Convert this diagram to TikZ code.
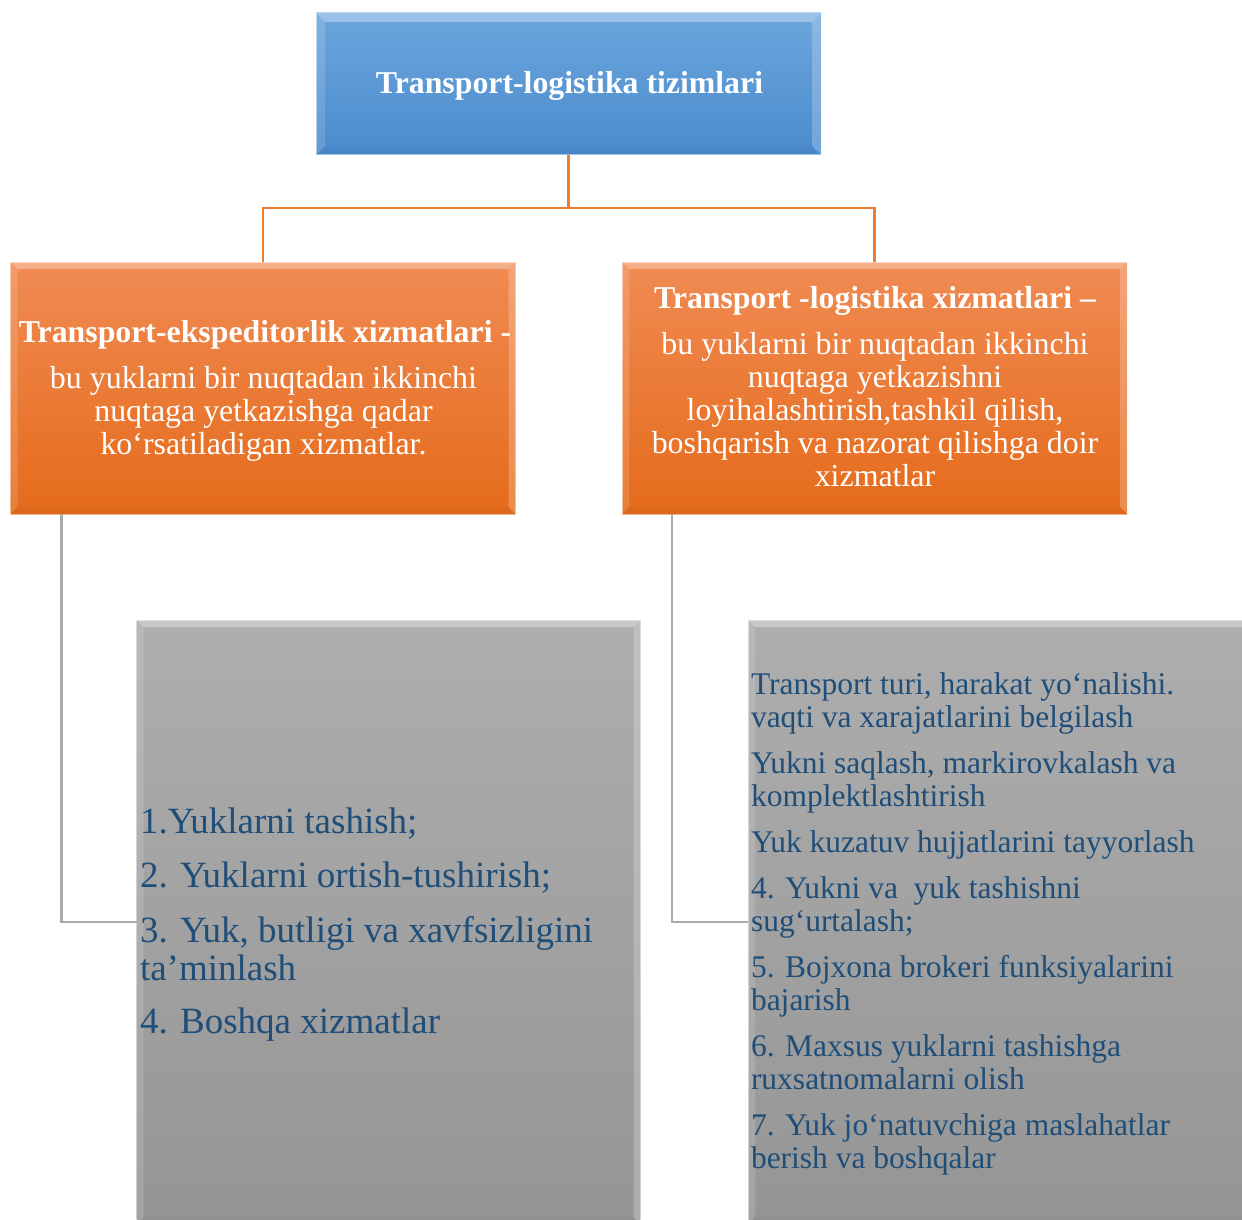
\documentclass[tikz,border=0pt]{standalone}
\usepackage{fontspec}
\setmainfont{Liberation Serif}
\usetikzlibrary{calc}
\definecolor{blueT}{HTML}{6CA6DD}
\definecolor{blueB}{HTML}{4A8BCD}
\definecolor{orT}{HTML}{F08B53}
\definecolor{orB}{HTML}{E56B1B}
\definecolor{grT}{HTML}{AEAEAE}
\definecolor{grB}{HTML}{959595}
\definecolor{txtblue}{HTML}{1F4E79}
\definecolor{orline}{HTML}{ED7D31}
\definecolor{grline}{HTML}{ABABAB}
\newcommand\bevelbox[2]{%
  \fill[white,opacity=0.32] (#1.north west) -- (#1.north east) -- ($(#1.north east)+(-#2,#2)$) -- ($(#1.north west)+(#2,#2)$) -- cycle;
  \fill[white,opacity=0.14] (#1.north west) -- ($(#1.north west)+(#2,#2)$) -- ($(#1.south west)+(#2,-#2)$) -- (#1.south west) -- cycle;
  \fill[white,opacity=0.22] (#1.north east) -- (#1.south east) -- ($(#1.south east)+(-#2,-#2)$) -- ($(#1.north east)+(-#2,#2)$) -- cycle;
  \fill[black,opacity=0.03] (#1.south west) -- (#1.south east) -- ($(#1.south east)+(-#2,-#2)$) -- ($(#1.south west)+(#2,-#2)$) -- cycle;
  \draw[white,opacity=0.5,line width=1pt] (#1.north west) rectangle (#1.south east);
}
\begin{document}
\begin{tikzpicture}[x=1pt,y=-1pt,
  box/.style={rectangle, inner sep=0pt, outer sep=0pt, draw=none},
  bluebox/.style={box, top color=blueT, bottom color=blueB, minimum width=505pt, minimum height=142pt},
  orbox/.style={box, top color=orT, bottom color=orB, minimum width=505pt, minimum height=252pt},
  grbox/.style={box, top color=grT, bottom color=grB, minimum width=504pt, minimum height=604pt},
  txt/.style={inner sep=0pt, outer sep=0pt},
  ttl/.style={txt, anchor=base, text=white, font=\fontsize{31.8pt}{33pt}\selectfont\bfseries},
  wbody/.style={txt, anchor=base, text=white, font=\fontsize{31.9pt}{33pt}\selectfont},
  llist/.style={txt, anchor=base west, text=txtblue, font=\fontsize{37pt}{39pt}\selectfont},
  rlist/.style={txt, anchor=base west, text=txtblue, font=\fontsize{31.5pt}{33pt}\selectfont},
  oline/.style={draw=orline, line width=2.2pt},
  gline/.style={draw=grline, line width=2.2pt},
]
\useasboundingbox (0,0) rectangle (1242,1220);
\clip (0,0) rectangle (1242,1220);
\fill[white] (0,0) rectangle (1242,1220);

% boxes
\node[bluebox] (top) at (568.5,84) {};
\node[orbox] (lbox) at (263,388) {};
\node[orbox] (rbox) at (874.5,388) {};
\node[grbox] (glbox) at (388.5,922) {};
\node[grbox] (grbox) at (1000,922) {};
\bevelbox{top}{9}
\bevelbox{lbox}{7}
\bevelbox{rbox}{7}
\bevelbox{glbox}{7}
\bevelbox{grbox}{7}

% connectors
\coordinate (bus) at (568.5,208);
\draw[oline] (top.south) -- (bus);
\draw[oline] (lbox.north) |- (bus) -| (rbox.north);
\draw[gline] ([xshift=51pt]lbox.south west) |- (glbox.west);
\draw[gline] ([xshift=50pt]rbox.south west) |- (grbox.west);

% texts
\node[ttl] (t0) at (569.5,94) {Transport-logistika tizimlari};

\node[ttl] (lt) at (265,342) {Transport-ekspeditorlik xizmatlari -};
\node[wbody] (lb1) at (263.5,388) {bu yuklarni bir nuqtadan ikkinchi};
\node[wbody] (lb2) at (263.5,421) {nuqtaga yetkazishga qadar};
\node[wbody] (lb3) at (263.5,454) {ko‘rsatiladigan xizmatlar.};

\node[ttl] (rt) at (875,308) {Transport -logistika xizmatlari –};
\node[wbody] (rb1) at (875,354) {bu yuklarni bir nuqtadan ikkinchi};
\node[wbody] (rb2) at (875,387) {nuqtaga yetkazishni};
\node[wbody] (rb3) at (875,420) {loyihalashtirish,tashkil qilish,};
\node[wbody] (rb4) at (875,453) {boshqarish va nazorat qilishga doir};
\node[wbody] (rb5) at (875,486) {xizmatlar};

\node[llist] (a1) at (140,833) {1.Yuklarni tashish;};
\node[llist] (a2) at (140,887) {2. Yuklarni ortish-tushirish;};
\node[llist] (a3) at (140,942) {3. Yuk, butligi va xavfsizligini};
\node[llist] (a3b) at (140,980) {ta’minlash};
\node[llist] (a4) at (140,1033) {4. Boshqa xizmatlar};

\node[rlist] (b1) at (751,694) {Transport turi, harakat yo‘nalishi.};
\node[rlist] (b1b) at (751,727) {vaqti va xarajatlarini belgilash};
\node[rlist] (b2) at (751,773) {Yukni saqlash, markirovkalash va};
\node[rlist] (b2b) at (751,806) {komplektlashtirish};
\node[rlist] (b3) at (751,852) {Yuk kuzatuv hujjatlarini tayyorlash};
\node[rlist] (b4) at (751,898) {4. Yukni va\ \ yuk tashishni};
\node[rlist] (b4b) at (751,931) {sug‘urtalash;};
\node[rlist] (b5) at (751,977) {5. Bojxona brokeri funksiyalarini};
\node[rlist] (b5b) at (751,1010) {bajarish};
\node[rlist] (b6) at (751,1056) {6. Maxsus yuklarni tashishga};
\node[rlist] (b6b) at (751,1089) {ruxsatnomalarni olish};
\node[rlist] (b7) at (751,1135) {7. Yuk jo‘natuvchiga maslahatlar};
\node[rlist] (b7b) at (751,1168) {berish va boshqalar};
\end{tikzpicture}
\end{document}
